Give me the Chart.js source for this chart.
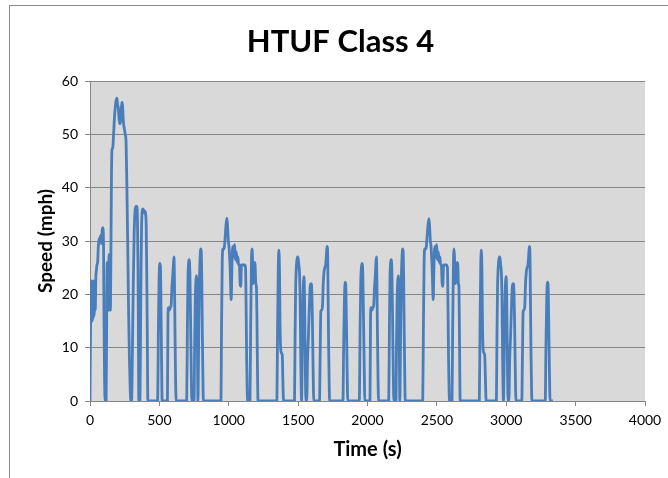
<!DOCTYPE html>
<html>
<head>
<meta charset="utf-8">
<title>HTUF Class 4</title>
<script src="https://cdn.jsdelivr.net/npm/chart.js@4.4.1/dist/chart.umd.min.js"></script>
<style>
    body { margin: 0; background: #fff; }
    #frame {
        position: absolute; left: 9px; top: 5px; width: 700px; height: 520px;
        border-left: 1px solid #8c8c8c; border-top: 1px solid #8c8c8c;
    }
    #speedChart { position: absolute; left: 0; top: 0; }
</style>
</head>
<body>
<div id="frame"></div>
<canvas id="speedChart" width="668" height="478"></canvas>
<script>
// Drive cycle trace (time in s, speed in mph)
const timeSec = [
    0, 4, 8, 11, 14, 17, 20, 23, 26, 30, 34, 38, 42, 46, 50, 55, 60, 65, 70, 76, 82, 88, 94, 98, 101, 105, 110,
    116, 120, 124, 128, 132, 136, 140, 143, 147, 150, 154, 158, 164, 170, 176, 182, 188, 194, 199, 204, 209, 214, 219, 224, 229, 234, 238, 242, 248, 254, 260, 266, 272, 278, 284, 290, 294,
    300, 306, 312, 318, 324, 330, 338, 342, 346, 349, 352,
    360, 364, 368, 372, 377, 383, 389, 395, 401, 405, 409, 413, 417,
    488, 493, 498, 503, 508, 512, 516, 520,
    558, 562, 566, 572, 578, 585, 590, 595, 600, 605, 609, 613, 617, 621,
    697, 702, 706, 711, 715, 720, 725, 730, 734,
    750, 754, 758, 763, 768, 772, 775, 778, 781, 785, 789, 793, 798, 802, 806, 810, 814, 817,
    944, 948, 953, 958, 964, 969, 975, 980, 987, 992, 997, 1002, 1006, 1010, 1014, 1018, 1022, 1026, 1030, 1034, 1038, 1043, 1047, 1051, 1056, 1061, 1066, 1071, 1077, 1082, 1087, 1091, 1099, 1107, 1115, 1121, 1125, 1129, 1133, 1137,
    1153, 1158, 1163, 1167, 1171, 1175, 1180, 1185, 1190, 1195, 1199, 1203, 1207, 1211,
    1347, 1352, 1357, 1362, 1366, 1370, 1374, 1380, 1386, 1390, 1395,
    1474, 1478, 1482, 1487, 1493, 1499, 1505, 1510, 1514, 1519, 1525, 1530, 1536, 1542, 1547, 1552, 1556,
    1562, 1568, 1574, 1580, 1587, 1593, 1598, 1603, 1608, 1613,
    1654, 1659, 1664, 1670, 1676, 1681, 1686, 1692, 1698, 1703, 1708, 1712, 1716, 1720, 1724, 1727,
    1823, 1828, 1833, 1838, 1843, 1848, 1853, 1858,
    1941, 1946, 1951, 1956, 1961, 1966, 1971, 1976, 1981,
    2018, 2022, 2026, 2032, 2038, 2045, 2050, 2055, 2059, 2064, 2068, 2072, 2076, 2080,
    2153, 2158, 2162, 2167, 2171, 2176, 2181, 2186, 2190,
    2205, 2209, 2213, 2218, 2223, 2227, 2230, 2233, 2236, 2240, 2244, 2248, 2253, 2257, 2261, 2265, 2269, 2272,
    2398, 2403, 2408, 2413, 2419, 2424, 2430, 2436, 2443, 2448, 2453, 2458, 2462, 2466, 2470, 2474, 2478, 2482, 2486, 2490, 2494, 2499, 2503, 2507, 2512, 2517, 2522, 2527, 2532, 2538, 2543, 2548, 2552, 2560, 2568, 2576, 2580, 2584, 2588, 2592,
    2609, 2614, 2619, 2623, 2627, 2631, 2635, 2640, 2646, 2651, 2655, 2659, 2663, 2668,
    2806, 2811, 2816, 2821, 2825, 2829, 2833, 2839, 2845, 2850, 2855,
    2929, 2933, 2937, 2942, 2948, 2954, 2960, 2965, 2969, 2974, 2980, 2986, 2992, 2999, 3004, 3009, 3013,
    3019, 3025, 3031, 3037, 3044, 3050, 3055, 3060, 3065, 3070,
    3112, 3117, 3122, 3128, 3134, 3139, 3144, 3150, 3156, 3161, 3166, 3170, 3174, 3178, 3182, 3185,
    3281, 3286, 3291, 3296, 3301, 3306, 3311, 3316, 3336
];
const speedMph = [
    0, 14, 20, 22.5, 22.5, 15, 21, 15.5, 22.5, 16, 22, 17, 23, 24.5, 25.5, 26, 29, 30.5, 30, 31, 29.5, 32, 32.5, 28, 15, 4, 0,
    0, 14, 26, 21, 17, 26, 27.5, 20, 17, 25, 40, 47, 47.5, 50, 53, 55, 56.3, 56.8, 55.5, 55, 53, 52, 52, 54, 56, 56, 53.5, 52, 51, 50, 48.5, 40, 29, 17, 8, 2, 0,
    0, 10, 22, 31, 35.5, 36.5, 36.5, 34, 25, 12, 0,
    0, 12, 25, 33, 35.8, 36, 35.3, 35.6, 35, 33, 24, 12, 0,
    0, 14, 23, 25.8, 25, 17, 7, 0,
    0, 16, 17.5, 17, 17.5, 18, 21, 23, 25, 27, 22, 12, 4, 0,
    0, 14, 23, 26, 26.5, 24, 15, 5, 0,
    0, 10, 18, 22.5, 23.5, 19, 8, 0, 6, 16, 23, 26.5, 28.5, 28, 22, 12, 4, 0,
    0, 14, 26, 28.5, 28.5, 29, 31, 33, 34.3, 32.5, 30, 29, 27, 25, 21, 19, 24, 28, 29, 27, 28.5, 29.3, 26.5, 28, 27.5, 26, 27, 25.5, 25.5, 22, 21.5, 25.5, 25.5, 25.5, 25.5, 25, 18, 8, 2, 0,
    0, 14, 25, 28.5, 27, 22, 24, 26, 25.5, 22, 21.5, 16, 6, 0,
    0, 14, 25, 28.3, 24, 14, 10, 9, 8.5, 4, 0,
    0, 12, 21, 25, 27, 27, 25.5, 24, 20, 8, 0, 10, 20, 23.3, 18, 6, 0,
    0, 8, 12, 17, 21.5, 22, 21, 15, 6, 0,
    0, 9, 17, 17, 18, 22, 24, 25, 25.5, 27, 29, 28.5, 20, 10, 3, 0,
    0, 10, 18, 22.3, 22, 15, 6, 0,
    0, 12, 22, 25, 25.8, 24, 16, 7, 0,
    0, 16, 17.5, 17, 17.5, 18, 21, 23, 25, 27, 22, 12, 4, 0,
    0, 14, 23, 26, 26.5, 24, 15, 5, 0,
    0, 10, 18, 22.5, 23.5, 19, 8, 0, 6, 16, 23, 26.5, 28.5, 28, 22, 12, 4, 0,
    0, 14, 26, 28.5, 28.5, 29, 31, 33, 34.2, 32.5, 30, 29, 27, 25, 21, 19, 24, 28, 29, 27, 28.5, 29.3, 26.5, 28, 27.5, 26, 27, 25.5, 25.5, 22, 21.5, 25.5, 25.5, 25.5, 25.5, 25, 18, 8, 2, 0,
    0, 14, 25, 28.5, 27, 23, 22, 24, 26, 25.5, 22, 21.5, 12, 0,
    0, 14, 25, 28.3, 24, 14, 10, 9, 8.5, 4, 0,
    0, 12, 21, 25, 27, 27, 25.5, 24, 20, 8, 0, 10, 20, 23.3, 18, 6, 0,
    0, 8, 12, 17, 21.5, 22, 21, 15, 6, 0,
    0, 9, 17, 17, 18, 22, 24, 25, 25.5, 27, 29, 28.5, 20, 10, 3, 0,
    0, 10, 18, 22.3, 22, 15, 6, 0, 0
];

// Axis ranges and tick steps
const timeTicks = [0, 500, 1000, 1500, 2000, 2500, 3000, 3500, 4000];
const speedTicks = [0, 10, 20, 30, 40, 50, 60];

const gridGray = '#868686';
const fontFace = 'Lato, "Open Sans", sans-serif';

// fill the plot area grey before anything else is drawn
const plotBackground = {
    id: 'plotBackground',
    beforeDraw(chart) {
        const a = chart.chartArea;
        const ctx = chart.ctx;
        ctx.save();
        ctx.fillStyle = '#d9d9d9';
        ctx.fillRect(a.left, a.top, a.right - a.left, a.bottom - a.top);
        ctx.restore();
    }
};

const points = timeSec.map((t, i) => ({ x: t, y: speedMph[i] }));

const ctxSpeed = document.getElementById('speedChart').getContext('2d');
const speedChart = new Chart(ctxSpeed, {
    type: 'line',
    data: {
        datasets: [
            {
                label: 'Speed',
                data: points,
                borderColor: '#4a7ebb',
                borderWidth: 2.8,
                pointRadius: 0,
                fill: false,
                cubicInterpolationMode: 'monotone',
                borderJoinStyle: 'round'
            }
        ]
    },
    options: {
        responsive: false,
        animation: false,
        layout: {
            // left padding pushes the chart title to the right, y axis box fills the rest
            padding: { left: 36, right: 23, top: 0, bottom: 0 }
        },
        scales: {
            x: {
                type: 'linear',
                min: timeTicks[0],
                max: timeTicks[timeTicks.length - 1],
                afterBuildTicks: scale => { scale.ticks = timeTicks.map(v => ({ value: v })); },
                afterFit: scale => { scale.height = 77; },
                grid: { drawOnChartArea: false, color: gridGray, tickLength: 5 },
                border: { color: gridGray },
                ticks: {
                    color: '#000', padding: 6, maxRotation: 0,
                    font: { family: fontFace, size: 14 },
                    callback: value => String(value)
                },
                title: {
                    display: true,
                    text: 'Time (s)',
                    color: '#000',
                    padding: { top: 0, bottom: 16 },
                    font: { family: fontFace, size: 20, weight: 'bold' }
                }
            },
            y: {
                min: speedTicks[0],
                max: speedTicks[speedTicks.length - 1],
                afterBuildTicks: scale => { scale.ticks = speedTicks.map(v => ({ value: v })); },
                afterFit: scale => { scale.width = 54; },
                grid: { color: gridGray, tickLength: 5 },
                border: { color: gridGray },
                ticks: {
                    color: '#000', padding: 7,
                    font: { family: fontFace, size: 14 },
                    callback: value => String(value)
                },
                title: {
                    display: true,
                    text: 'Speed (mph)',
                    color: '#000',
                    padding: { top: -2, bottom: 0 },
                    font: { family: fontFace, size: 19, weight: 'bold' }
                }
            }
        },
        plugins: {
            legend: { display: false },
            tooltip: { enabled: false },
            title: {
                display: true,
                text: 'HTUF Class 4',
                color: '#000',
                padding: { top: 23, bottom: 20.8 },
                font: { family: fontFace, size: 31, weight: 'bold' }
            }
        }
    },
    plugins: [plotBackground]
});
</script>
</body>
</html>
